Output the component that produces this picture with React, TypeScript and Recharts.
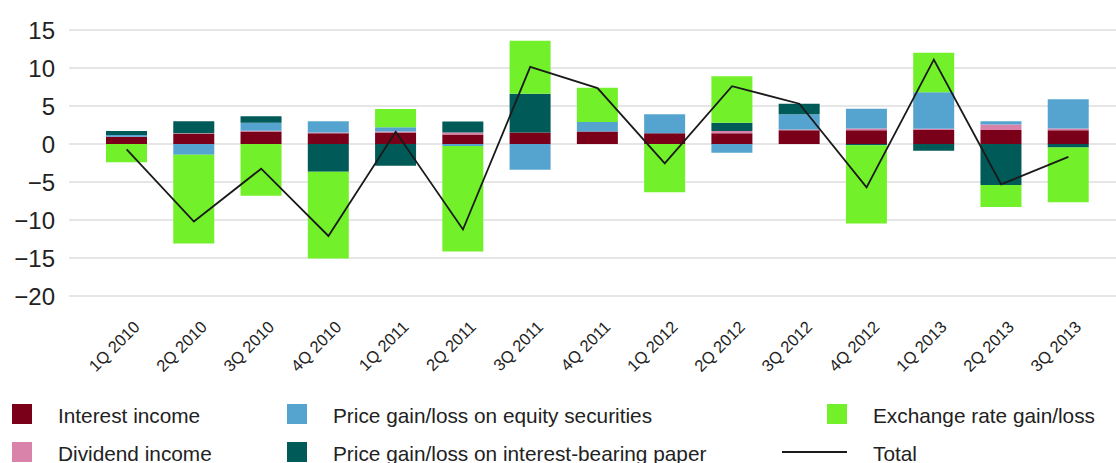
import { ComposedChart, Bar, Line, XAxis, YAxis, CartesianGrid } from 'recharts';

const quarters = [
  '1Q 2010', '2Q 2010', '3Q 2010', '4Q 2010',
  '1Q 2011', '2Q 2011', '3Q 2011', '4Q 2011',
  '1Q 2012', '2Q 2012', '3Q 2012', '4Q 2012',
  '1Q 2013', '2Q 2013', '3Q 2013',
];

const interestIncome = [0.95, 1.35, 1.65, 1.4, 1.5, 1.25, 1.5, 1.65, 1.4, 1.4, 1.8, 1.8, 1.85, 1.85, 1.8];
const dividendIncome = [0, 0.05, 0.1, 0.1, 0.15, 0.25, 0, 0, 0, 0.3, 0.1, 0.25, 0.15, 0.7, 0.25];
const equityGainLoss = [0.25, -1.4, 1.05, 1.5, 0.55, -0.25, -3.4, 1.25, 2.5, -1.15, 2.0, 2.6, 4.8, 0.45, 3.85];
const paperGainLoss = [0.5, 1.6, 0.85, -3.65, -2.85, 1.45, 5.1, 0, 0, 1.1, 1.4, -0.15, -0.9, -5.4, -0.45];
const exchangeGainLoss = [-2.4, -11.7, -6.8, -11.4, 2.4, -13.9, 7.0, 4.5, -6.35, 6.1, 0, -10.3, 5.2, -2.9, -7.2];
const total = [-0.7, -10.2, -3.25, -12.1, 1.6, -11.25, 10.15, 7.35, -2.55, 7.6, 5.3, -5.7, 11.1, -5.3, -1.7];

const yTicks = [-20, -15, -10, -5, 0, 5, 10, 15];

const COLORS = {
  interest: '#7a0019',
  dividend: '#d982aa',
  equity: '#55a4cf',
  paper: '#005a58',
  exchange: '#72f02a',
  total: '#1a1a1a',
};

const FONT = '"Liberation Sans", Arial, Helvetica, sans-serif';
const TEXT = '#222';

const data = quarters.map((q, i) => ({
  quarter: q,
  interest: interestIncome[i],
  dividend: dividendIncome[i],
  equity: equityGainLoss[i],
  paper: paperGainLoss[i],
  exchange: exchangeGainLoss[i],
  total: total[i],
}));

function QuarterTick({ x, y, payload }: { x?: number; y?: number; payload?: { value: string } }) {
  return (
    <g transform={`translate(${(x ?? 0) + 14},${(y ?? 0) + 32})`}>
      <text textAnchor="end" transform="rotate(-45)" fontSize={16.5} fill={TEXT} fontFamily={FONT}>
        {payload?.value}
      </text>
    </g>
  );
}

const fmtY = (v: number) => (v < 0 ? '\u2212' + Math.abs(v) : String(v));

type LegendItem = { label: string; color: string; line?: boolean };

// legend columns, top to bottom
const legendCols: LegendItem[][] = [
  [
    { label: 'Interest income', color: COLORS.interest },
    { label: 'Dividend income', color: COLORS.dividend },
  ],
  [
    { label: 'Price gain/loss on equity securities', color: COLORS.equity },
    { label: 'Price gain/loss on interest-bearing paper', color: COLORS.paper },
  ],
  [
    { label: 'Exchange rate gain/loss', color: COLORS.exchange },
    { label: 'Total', color: COLORS.total, line: true },
  ],
];
const colLeft = [12, 287, 782];
const colSwatch = [20, 20, 65];

export default function App() {
  return (
    <div style={{ position: 'absolute', left: 0, top: 0, width: 1116, height: 463, overflow: 'hidden', background: '#fff' }}>
      <ComposedChart
        width={1116}
        height={463}
        data={data}
        stackOffset="sign"
        margin={{ top: 30, right: 0, bottom: 0, left: 0 }}
      >
        <CartesianGrid vertical={false} stroke="#dedede" strokeWidth={1.5} />
        <XAxis
          dataKey="quarter"
          height={167}
          axisLine={false}
          tickLine={false}
          tickSize={0}
          tickMargin={0}
          interval={0}
          padding={{ left: 24, right: 14 }}
          tick={<QuarterTick />}
        />
        <YAxis
          width={69}
          domain={[-20, 15]}
          ticks={yTicks}
          axisLine={false}
          tickLine={false}
          tickSize={0}
          tickMargin={14}
          tickFormatter={fmtY}
          tick={{ fontSize: 24, fill: TEXT, fontFamily: FONT }}
        />
        <Bar dataKey="interest" stackId="a" fill={COLORS.interest} barSize={41} isAnimationActive={false} />
        <Bar dataKey="dividend" stackId="a" fill={COLORS.dividend} barSize={41} isAnimationActive={false} />
        <Bar dataKey="equity" stackId="a" fill={COLORS.equity} barSize={41} isAnimationActive={false} />
        <Bar dataKey="paper" stackId="a" fill={COLORS.paper} barSize={41} isAnimationActive={false} />
        <Bar dataKey="exchange" stackId="a" fill={COLORS.exchange} barSize={41} isAnimationActive={false} />
        <Line
          type="linear"
          dataKey="total"
          stroke={COLORS.total}
          strokeWidth={1.8}
          dot={false}
          activeDot={false}
          isAnimationActive={false}
        />
      </ComposedChart>

      {legendCols.map((col, ci) => (
        <div key={ci} style={{ position: 'absolute', left: colLeft[ci], top: 404, fontFamily: FONT, fontSize: 20.8, color: TEXT }}>
          {col.map((item) => (
            <div key={item.label} style={{ display: 'flex', alignItems: 'center', height: 20, marginBottom: 18, whiteSpace: 'nowrap' }}>
              <div style={{ width: colSwatch[ci], display: 'flex', justifyContent: 'flex-end' }}>
                {item.line ? (
                  <div style={{ width: 65, height: 2, background: item.color }} />
                ) : (
                  <div style={{ width: 20, height: 20, background: item.color }} />
                )}
              </div>
              <span style={{ marginLeft: 26, lineHeight: '20px', position: 'relative', top: 2 }}>{item.label}</span>
            </div>
          ))}
        </div>
      ))}
    </div>
  );
}
